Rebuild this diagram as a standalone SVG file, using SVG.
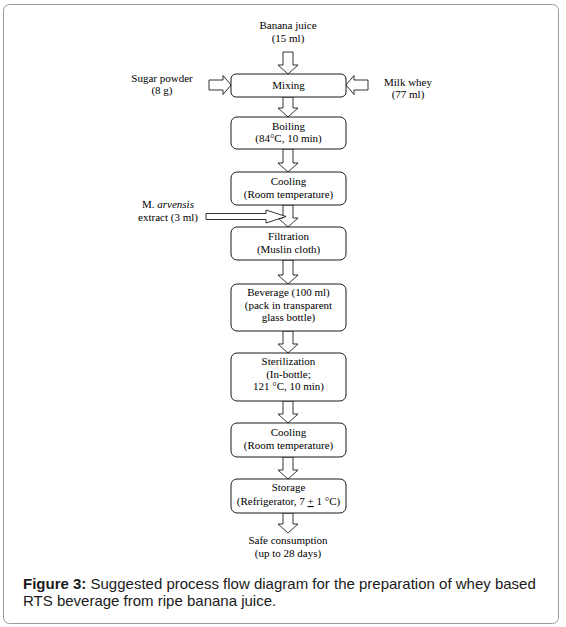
<svg xmlns="http://www.w3.org/2000/svg" width="566" height="627" viewBox="0 0 566 627">
<style>
.t{font-family:"Liberation Serif","Times New Roman",serif;font-size:11px;fill:#000;text-anchor:middle}
.box{fill:#fff;stroke:#000;stroke-width:0.9}
.arr{fill:#fff;stroke:#000;stroke-width:0.8;stroke-linejoin:miter}
.cap{font-family:"Liberation Sans",Arial,sans-serif;font-size:15px;fill:#1a1a1a}
</style>
<rect x="0" y="0" width="566" height="627" fill="#fff"/>
<rect x="3.5" y="4.5" width="555" height="619" rx="6" fill="#fff" stroke="#9a9a9a" stroke-width="1"/>

<g id="connectors">
<path class="arr" d="M283,52 L293,52 L293,65 L298,65 L288,74 L278,65 L283,65 Z"/>
<path class="arr" d="M209,80 L223,80 L223,75.5 L231,85 L223,94.5 L223,90 L209,90 Z"/>
<path class="arr" d="M368,80 L354,80 L354,75.5 L346,85 L354,94.5 L354,90 L368,90 Z"/>
<path class="arr" d="M283,97 L293,97 L293,108 L298,108 L288,117 L278,108 L283,108 Z"/>
<path class="arr" d="M283,149 L293,149 L293,163 L298,163 L288,172 L278,163 L283,163 Z"/>
<path class="arr" d="M283,205 L293,205 L293,218 L298,218 L288,227 L278,218 L283,218 Z"/>
<path class="arr" d="M206,213.5 L266,213.5 L266,210 L286,216.5 L266,223 L266,219.5 L206,219.5 Z"/>
<path class="arr" d="M283,260 L293,260 L293,275 L298,275 L288,284 L278,275 L283,275 Z"/>
<path class="arr" d="M283,331 L293,331 L293,344 L298,344 L288,353 L278,344 L283,344 Z"/>
<path class="arr" d="M283,401 L293,401 L293,414 L298,414 L288,423 L278,414 L283,414 Z"/>
<path class="arr" d="M283,457 L293,457 L293,470 L298,470 L288,479 L278,470 L283,470 Z"/>
<path class="arr" d="M283,513 L293,513 L293,524 L298,524 L288,533 L278,524 L283,524 Z"/>
</g>

<g id="banana">
<text class="t" x="288" y="29">Banana juice</text>
<text class="t" x="288" y="42">(15 ml)</text>
</g>
<g id="sugar">
<text class="t" x="162" y="82">Sugar powder</text>
<text class="t" x="162" y="94">(8 g)</text>
</g>
<g id="whey">
<text class="t" x="408" y="86">Milk whey</text>
<text class="t" x="408" y="98">(77 ml)</text>
</g>
<g id="mixing">
<rect class="box" x="231" y="74" width="115" height="23" rx="5"/>
<text class="t" x="288.5" y="89">Mixing</text>
</g>
<g id="boiling">
<rect class="box" x="231" y="117" width="115" height="32" rx="6"/>
<text class="t" x="288.5" y="130">Boiling</text>
<text class="t" x="288.5" y="142">(84°C, 10 min)</text>
</g>
<g id="cooling1">
<rect class="box" x="231" y="172" width="115" height="33" rx="6"/>
<text class="t" x="288.5" y="185">Cooling</text>
<text class="t" x="288.5" y="197.5">(Room temperature)</text>
</g>
<g id="arvensis">
<text class="t" x="168" y="208">M. <tspan font-style="italic">arvensis</tspan></text>
<text class="t" x="168" y="221">extract (3 ml)</text>
</g>
<g id="filtration">
<rect class="box" x="231" y="227" width="115" height="33" rx="6"/>
<text class="t" x="288.5" y="240">Filtration</text>
<text class="t" x="288.5" y="252.5">(Muslin cloth)</text>
</g>
<g id="beverage">
<rect class="box" x="231" y="284" width="115" height="47" rx="6"/>
<text class="t" x="288.5" y="296">Beverage (100 ml)</text>
<text class="t" x="288.5" y="308.5">(pack in transparent</text>
<text class="t" x="288.5" y="321">glass bottle)</text>
</g>
<g id="sterilization">
<rect class="box" x="231" y="353" width="115" height="48" rx="6"/>
<text class="t" x="288.5" y="365">Sterilization</text>
<text class="t" x="288.5" y="377.5">(In-bottle;</text>
<text class="t" x="288.5" y="390">121 °C, 10 min)</text>
</g>
<g id="cooling2">
<rect class="box" x="231" y="423" width="115" height="34" rx="6"/>
<text class="t" x="288.5" y="435.5">Cooling</text>
<text class="t" x="288.5" y="448.5">(Room temperature)</text>
</g>
<g id="storage">
<rect class="box" x="231" y="479" width="115" height="34" rx="6"/>
<text class="t" x="288.5" y="491">Storage</text>
<text class="t" x="288.5" y="505">(Refrigerator, 7 <tspan text-decoration="underline">+</tspan> 1 °C)</text>
</g>
<g id="safe">
<text class="t" x="288" y="544">Safe consumption</text>
<text class="t" x="288" y="556.5">(up to 28 days)</text>
</g>

<g id="caption">
<text class="cap" x="23" y="589"><tspan font-weight="bold">Figure 3:</tspan> Suggested process flow diagram for the preparation of whey based</text>
<text class="cap" x="23" y="606">RTS beverage from ripe banana juice.</text>
</g>
</svg>
